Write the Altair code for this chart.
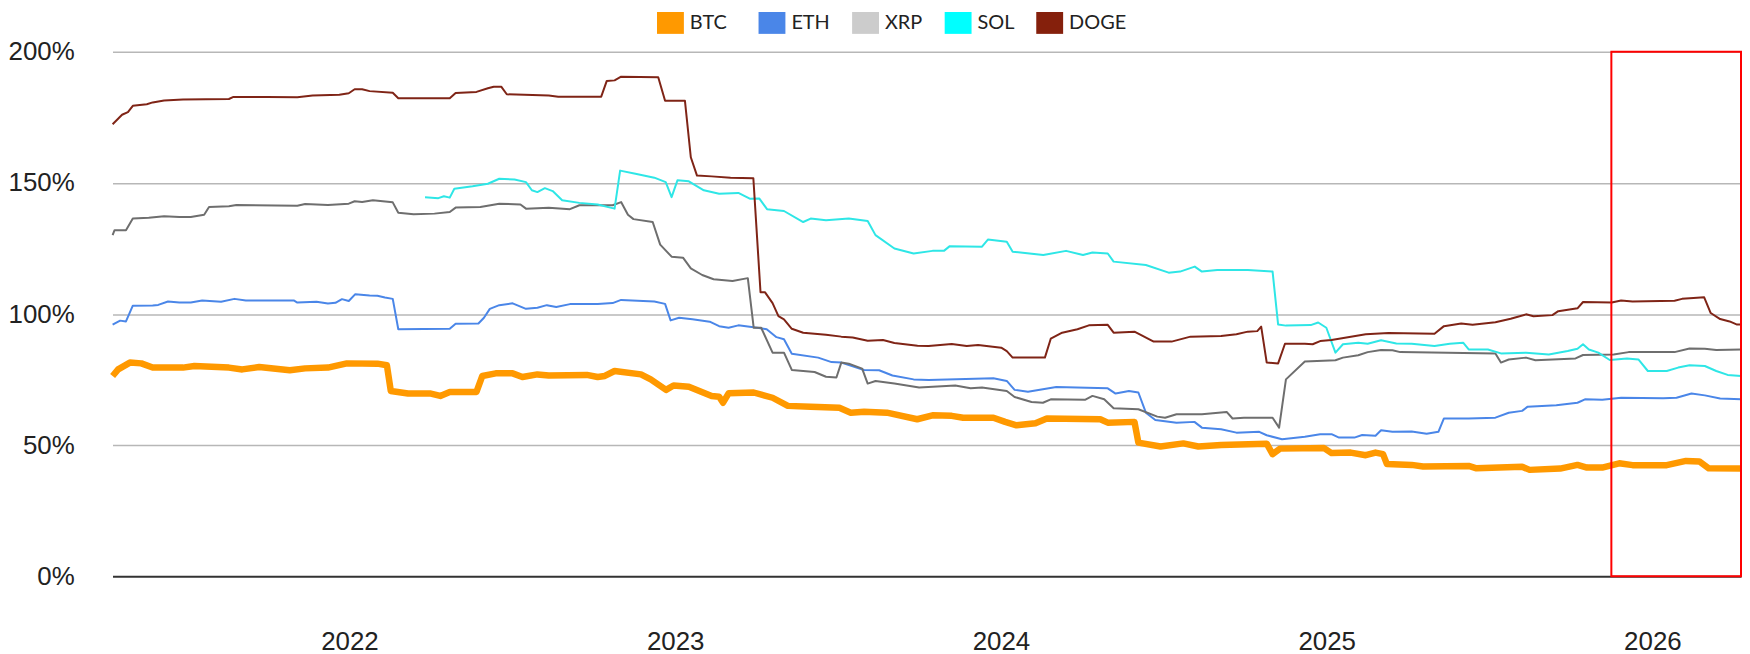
import altair as alt
import pandas as pd

# ---------------- data ----------------
series_names = ["BTC", "ETH", "XRP", "SOL", "DOGE"]
legend_colors = ["#FF9900", "#4A86E8", "#CCCCCC", "#00FFFF", "#85200C"]
line_colors = ["#FF9900", "#4A86E8", "#6E6E6E", "#2EE6E6", "#7F2416"]

year_ticks = [2022, 2023, 2024, 2025, 2026]
pct_ticks = [0, 50, 100, 150, 200]
x_domain = [2021.2727, 2026.272]
highlight_start = 2025.874
highlight_end = 2026.272

btc = [(2021.273,76.4),(2021.29,78.9),(2021.326,81.5),(2021.361,81.2),(2021.396,79.6),(2021.489,79.6),
       (2021.524,80.2),(2021.63,79.6),(2021.671,78.9),(2021.723,79.8),(2021.817,78.6),(2021.864,79.3),
       (2021.934,79.6),(2021.992,81.2),(2022.086,81.1),(2022.115,80.5),(2022.127,70.7),(2022.18,69.7),
       (2022.25,69.7),(2022.279,68.8),(2022.308,70.3),(2022.39,70.3),(2022.408,76.4),(2022.449,77.4),
       (2022.501,77.4),(2022.531,76.0),(2022.577,77.0),(2022.612,76.6),(2022.729,76.8),(2022.762,76.0),
       (2022.784,76.4),(2022.814,78.3),(2022.895,77.0),(2022.925,75.1),(2022.972,71.1),(2022.995,72.8),
       (2023.042,72.3),(2023.112,68.8),(2023.135,68.5),(2023.147,66.2),(2023.164,69.8),(2023.241,70.1),
       (2023.299,68.1),(2023.346,65.0),(2023.416,64.7),(2023.504,64.3),(2023.539,62.4),(2023.58,62.8),
       (2023.65,62.4),(2023.743,59.9),(2023.79,61.4),(2023.849,61.2),(2023.884,60.5),(2023.977,60.5),
       (2024.013,58.9),(2024.048,57.6),(2024.106,58.4),(2024.141,60.2),(2024.305,59.9),(2024.328,58.6),
       (2024.41,58.9),(2024.422,51.0),(2024.49,49.5),(2024.56,50.7),(2024.606,49.5),(2024.676,50.1),
       (2024.816,50.6),(2024.834,46.6),(2024.857,48.7),(2024.992,48.9),(2025.015,47.0),(2025.074,47.2),
       (2025.12,46.2),(2025.15,47.2),(2025.173,46.6),(2025.185,42.8),(2025.261,42.5),(2025.296,41.9),
       (2025.436,42.1),(2025.46,41.2),(2025.6,41.8),(2025.623,40.6),(2025.717,41.1),(2025.77,42.5),
       (2025.799,41.5),(2025.846,41.5),(2025.898,43.1),(2025.939,42.4),(2026.044,42.4),(2026.103,44.0),
       (2026.144,43.8),(2026.173,41.2),(2026.272,41.1)]

eth = [(2021.273,96.0),(2021.296,97.5),(2021.314,97.2),(2021.335,103.2),(2021.396,103.3),(2021.413,103.5),
       (2021.443,104.8),(2021.478,104.4),(2021.513,104.4),(2021.548,105.2),(2021.606,104.7),(2021.647,105.8),
       (2021.682,105.2),(2021.829,105.2),(2021.84,104.4),(2021.899,104.7),(2021.934,104.0),(2021.957,104.3),
       (2021.977,105.7),(2021.998,105.0),(2022.018,107.6),(2022.062,107.1),(2022.086,107.0),(2022.109,106.3),
       (2022.133,105.8),(2022.15,94.2),(2022.308,94.4),(2022.326,96.3),(2022.396,96.4),(2022.413,98.6),
       (2022.431,102.0),(2022.46,103.4),(2022.501,104.1),(2022.542,102.0),(2022.577,102.4),(2022.606,103.4),
       (2022.635,102.7),(2022.677,103.8),(2022.762,103.8),(2022.808,104.2),(2022.834,105.4),(2022.936,104.8),
       (2022.969,103.9),(2022.986,97.6),(2023.012,98.6),(2023.053,98.0),(2023.106,97.1),(2023.135,95.4),
       (2023.164,94.8),(2023.194,95.7),(2023.252,94.8),(2023.281,94.2),(2023.311,91.2),(2023.334,90.4),
       (2023.358,84.9),(2023.439,83.4),(2023.48,81.7),(2023.51,81.5),(2023.58,78.7),(2023.626,78.6),
       (2023.667,76.6),(2023.732,75.1),(2023.778,74.9),(2023.977,75.5),(2024.018,74.5),(2024.042,71.1),
       (2024.083,70.4),(2024.17,72.2),(2024.328,71.7),(2024.352,69.7),(2024.393,70.7),(2024.422,70.1),
       (2024.445,62.4),(2024.474,59.6),(2024.539,58.6),(2024.594,58.9),(2024.617,56.7),(2024.676,56.1),
       (2024.723,54.8),(2024.793,55.1),(2024.816,53.8),(2024.863,52.3),(2024.933,53.2),(2024.98,54.2),
       (2025.015,54.2),(2025.038,52.9),(2025.085,52.9),(2025.109,53.9),(2025.15,53.6),(2025.167,55.7),
       (2025.202,55.1),(2025.261,55.2),(2025.307,54.4),(2025.343,55.1),(2025.36,60.2),(2025.436,60.2),
       (2025.518,60.5),(2025.559,62.4),(2025.6,63.1),(2025.617,64.7),(2025.705,65.2),(2025.77,66.2),
       (2025.793,67.5),(2025.846,67.3),(2025.904,68.1),(2026.033,67.9),(2026.074,68.1),(2026.12,69.7),
       (2026.161,69.0),(2026.208,67.8),(2026.272,67.5)]

xrp = [(2021.273,130.1),(2021.279,132.0),(2021.314,132.0),(2021.335,136.4),(2021.384,136.7),(2021.431,137.3),
       (2021.478,137.0),(2021.513,137.0),(2021.554,137.9),(2021.569,140.8),(2021.63,141.1),(2021.653,141.6),
       (2021.84,141.3),(2021.864,142.0),(2021.934,141.6),(2021.998,142.1),(2022.016,143.0),(2022.039,142.7),
       (2022.072,143.4),(2022.133,142.6),(2022.15,138.6),(2022.197,138.1),(2022.261,138.3),(2022.308,138.9),
       (2022.326,140.6),(2022.402,140.8),(2022.46,142.1),(2022.525,141.8),(2022.542,140.2),(2022.612,140.5),
       (2022.677,140.0),(2022.706,141.5),(2022.808,141.5),(2022.834,142.7),(2022.855,137.9),(2022.872,136.2),
       (2022.931,135.1),(2022.954,126.5),(2022.989,121.9),(2023.024,121.5),(2023.048,117.4),(2023.083,114.9),
       (2023.118,113.3),(2023.176,112.6),(2023.223,113.7),(2023.241,94.8),(2023.264,94.8),(2023.299,85.3),
       (2023.334,85.3),(2023.358,78.7),(2023.428,77.9),(2023.463,76.1),(2023.495,75.8),(2023.51,81.5),
       (2023.533,81.1),(2023.574,79.2),(2023.591,73.5),(2023.615,74.5),(2023.673,73.5),(2023.749,72.0),
       (2023.86,72.8),(2023.907,71.7),(2023.942,72.0),(2024.018,70.7),(2024.042,68.4),(2024.094,66.5),
       (2024.129,66.2),(2024.153,67.5),(2024.258,67.3),(2024.281,68.8),(2024.317,67.5),(2024.346,64.1),
       (2024.422,63.7),(2024.48,60.9),(2024.504,60.5),(2024.539,61.8),(2024.617,61.8),(2024.693,62.7),
       (2024.711,60.2),(2024.746,60.5),(2024.834,60.5),(2024.854,56.7),(2024.875,75.1),(2024.933,81.9),
       (2025.027,82.4),(2025.05,83.4),(2025.097,84.3),(2025.126,85.5),(2025.167,86.3),(2025.202,86.2),
       (2025.226,85.5),(2025.518,85.0),(2025.535,81.5),(2025.559,82.7),(2025.612,83.4),(2025.641,82.4),
       (2025.764,83.1),(2025.787,84.4),(2025.881,84.6),(2025.927,85.5),(2026.068,85.5),(2026.114,86.9),
       (2026.161,86.8),(2026.196,86.3),(2026.272,86.5)]

sol = [(2022.232,144.5),(2022.273,144.2),(2022.29,144.9),(2022.308,144.4),(2022.322,147.8),(2022.378,148.7),
       (2022.425,149.7),(2022.46,151.6),(2022.507,151.3),(2022.542,150.3),(2022.56,147.2),(2022.577,146.5),
       (2022.6,148.0),(2022.624,146.9),(2022.653,143.4),(2022.706,142.4),(2022.762,141.8),(2022.814,140.2),
       (2022.831,154.7),(2022.878,153.5),(2022.936,152.0),(2022.971,150.3),(2022.989,144.6),(2023.007,151.0),
       (2023.042,150.6),(2023.088,147.2),(2023.135,145.9),(2023.194,146.2),(2023.229,144.0),(2023.258,144.1),
       (2023.282,140.0),(2023.334,139.3),(2023.393,135.1),(2023.416,136.4),(2023.463,135.8),(2023.533,136.4),
       (2023.591,135.5),(2023.615,130.1),(2023.673,125.0),(2023.732,123.1),(2023.79,124.1),(2023.825,124.1),
       (2023.843,125.9),(2023.942,125.7),(2023.96,128.4),(2024.018,127.6),(2024.036,123.8),(2024.13,122.5),
       (2024.2,124.1),(2024.252,122.5),(2024.281,123.5),(2024.328,123.1),(2024.346,120.0),(2024.445,118.7),
       (2024.515,115.8),(2024.55,116.2),(2024.595,118.1),(2024.617,116.2),(2024.664,116.8),(2024.758,116.8),
       (2024.834,116.2),(2024.851,96.0),(2024.875,95.6),(2024.951,95.8),(2024.974,96.8),(2024.999,94.8),
       (2025.027,85.3),(2025.05,88.5),(2025.097,89.1),(2025.126,88.7),(2025.167,90.0),(2025.214,88.8),
       (2025.261,88.7),(2025.331,87.8),(2025.378,88.7),(2025.419,89.1),(2025.436,86.5),(2025.495,86.5),
       (2025.535,85.0),(2025.612,85.3),(2025.682,84.6),(2025.74,85.9),(2025.77,86.8),(2025.787,88.5),
       (2025.805,86.5),(2025.834,85.3),(2025.869,82.5),(2025.922,83.1),(2025.957,82.7),(2025.986,78.3),
       (2026.044,78.3),(2026.079,79.6),(2026.114,80.5),(2026.161,80.2),(2026.196,78.3),(2026.231,76.8),
       (2026.272,76.4)]

doge = [(2021.273,172.4),(2021.302,176.0),(2021.32,177.0),(2021.335,179.4),(2021.378,180.0),(2021.396,180.7),
        (2021.431,181.4),(2021.489,181.8),(2021.63,182.0),(2021.644,182.8),(2021.747,182.8),(2021.84,182.7),
        (2021.887,183.3),(2021.969,183.6),(2021.998,184.2),(2022.016,185.7),(2022.039,185.7),(2022.062,185.0),
        (2022.133,184.4),(2022.15,182.3),(2022.308,182.3),(2022.326,184.3),(2022.39,184.7),(2022.425,186.1),
        (2022.443,186.7),(2022.466,186.7),(2022.483,183.8),(2022.612,183.3),(2022.641,182.9),(2022.773,182.9),
        (2022.79,188.9),(2022.814,189.1),(2022.834,190.5),(2022.948,190.3),(2022.969,181.3),(2023.03,181.3),
        (2023.048,159.8),(2023.067,152.8),(2023.112,152.5),(2023.17,152.0),(2023.24,151.8),(2023.262,108.3),
        (2023.276,108.3),(2023.299,104.2),(2023.317,99.2),(2023.334,98.0),(2023.358,94.4),(2023.393,92.9),
        (2023.463,92.1),(2023.51,91.4),(2023.545,91.1),(2023.591,89.8),(2023.638,90.1),(2023.673,89.0),
        (2023.744,87.9),(2023.778,87.8),(2023.849,88.6),(2023.895,87.8),(2023.93,88.2),(2024.001,87.2),
        (2024.018,85.9),(2024.036,83.4),(2024.135,83.4),(2024.153,90.6),(2024.188,92.9),(2024.235,94.2),
        (2024.27,95.7),(2024.328,95.9),(2024.346,92.9),(2024.41,93.3),(2024.469,89.5),(2024.524,89.5),
        (2024.582,91.4),(2024.676,91.6),(2024.723,92.3),(2024.758,93.3),(2024.787,93.5),(2024.799,95.2),
        (2024.816,81.5),(2024.851,81.2),(2024.872,88.7),(2024.933,88.7),(2024.957,88.5),(2024.98,89.7),
        (2025.015,90.1),(2025.12,92.3),(2025.19,92.8),(2025.331,92.5),(2025.36,95.4),(2025.413,96.4),
        (2025.448,95.9),(2025.518,96.9),(2025.565,98.2),(2025.612,99.9),(2025.635,99.2),(2025.693,99.6),
        (2025.711,101.1),(2025.77,102.2),(2025.787,104.6),(2025.875,104.4),(2025.904,105.2),(2025.939,104.8),
        (2026.068,105.1),(2026.091,105.8),(2026.126,106.1),(2026.159,106.4),(2026.179,100.4),(2026.208,98.1),
        (2026.237,97.2),(2026.26,96.0),(2026.272,96.0)]

# ---------------- table ----------------
rows = []
for name, lc, pts in zip(series_names, line_colors, [btc, eth, xrp, sol, doge]):
    for t, v in pts:
        rows.append({"series": name, "lc": lc, "t": t, "v": v})
df = pd.DataFrame(rows)

box_df = pd.DataFrame({"t0": [highlight_start], "t1": [highlight_end], "v0": [0], "v1": [200]})

FONT = "Liberation Sans"

x_scale = alt.Scale(domain=x_domain, nice=False, zero=False)
y_scale = alt.Scale(domain=[0, 200], nice=False, zero=True)

x_axis = alt.Axis(values=year_ticks, format="d", title=None, ticks=False, tickSize=0, domain=False,
                  grid=False, labelFont=FONT, labelFontSize=26, labelColor="#222222",
                  labelPadding=52, labelFlush=False, labelOverlap=False)
y_axis = alt.Axis(values=pct_ticks, labelExpr="datum.value + '%'", title=None, ticks=False, tickSize=0,
                  domain=False, grid=True,
                  gridColor={"condition": {"test": "datum.value === 0", "value": "#333333"}, "value": "#B7B7B7"},
                  gridWidth={"condition": {"test": "datum.value === 0", "value": 2}, "value": 1.5},
                  labelFont=FONT, labelFontSize=26, labelColor="#222222", labelPadding=38.5)

lines = alt.Chart(df).mark_line(strokeJoin="round").encode(
    x=alt.X("t:Q", scale=x_scale, axis=x_axis),
    y=alt.Y("v:Q", scale=y_scale, axis=y_axis),
    detail="series:N",
    stroke=alt.Stroke("lc:N", scale=None),
    strokeWidth=alt.condition("datum.series === 'BTC'", alt.value(6.5), alt.value(2)),
)

# legend only: no marks drawn, entries come from the explicit scale domain.
# The BTC entry in the reference is followed by a wider gap: pad its label with
# non-breaking spaces closed by a zero-width joiner so they are not trimmed.
legend_layer = alt.Chart(df).transform_filter("false").mark_point(filled=True, shape="square").encode(
    x=alt.X("t:Q", scale=x_scale, axis=x_axis),
    y=alt.Y("v:Q", scale=y_scale, axis=y_axis),
    fill=alt.Fill("series:N", scale=alt.Scale(domain=series_names, range=legend_colors),
                  legend=alt.Legend(title=None, orient="none", legendX=549.5, legendY=-40,
                                    direction="horizontal", columns=5, padding=0,
                                    symbolType="M-1.227,-1H1.227V1H-1.227Z", symbolSize=484,
                                    symbolStrokeWidth=0, symbolOpacity=1,
                                    labelFont="Lato", labelFontSize=20, labelColor="#222222",
                                    labelOffset=8.5, columnPadding=21, labelLimit=300,
                                    labelExpr="datum.label === 'BTC' ? 'BTC\u00a0\u00a0\u200d' : datum.label")),
)

box = alt.Chart(box_df).mark_rect(filled=False, stroke="#FF0000", strokeWidth=2).encode(
    x=alt.X("t0:Q", scale=x_scale, axis=x_axis),
    x2="t1:Q",
    y=alt.Y("v0:Q", scale=y_scale, axis=y_axis),
    y2="v1:Q",
)

chart = alt.layer(lines, legend_layer, box).properties(
    width=1636, height=527,
    autosize=alt.AutoSizeParams(type="none"),
    padding={"left": 105, "top": 42.5, "right": 1, "bottom": 76.5},
    background="white",
).configure_view(stroke=None)

chart.save("out.html", embed_options={"renderer": "svg", "actions": False})
